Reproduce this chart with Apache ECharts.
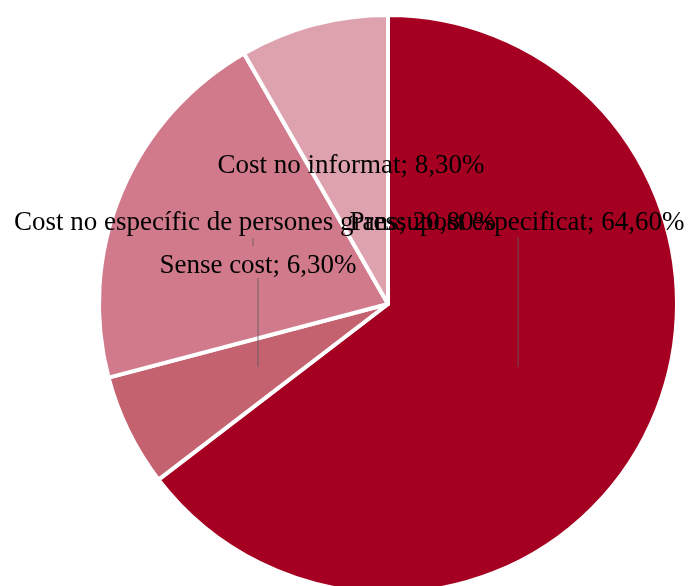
<!DOCTYPE html>
<html>
<head>
<meta charset="utf-8">
<script src="https://cdn.jsdelivr.net/npm/echarts@6/dist/echarts.min.js"></script>
<style>
  html, body { margin: 0; padding: 0; background: #ffffff; }
  #chart { width: 692px; height: 586px; }
</style>
</head>
<body>
<div id="chart"></div>
<script>
const categories = ['Pressupost especificat', 'Sense cost', 'Cost no específic de persones grans', 'Cost no informat'];
const values = [64.6, 6.3, 20.8, 8.3];
const percentLabels = ['64,60%', '6,30%', '20,80%', '8,30%'];
const sliceColors = ['#A50021', '#C5626F', '#D07A8B', '#DEA1AE'];

// label text centres, taken from the reference layout
const labelPos = [
  { x: 517, y: 223 },
  { x: 258, y: 266 },
  { x: 255, y: 223 },
  { x: 351, y: 166 }
];
// leader lines (x, y1, y2) as in the reference
const leaders = [
  [518, 237, 367],
  [258, 278, 367],
  [253, 238, 246]
];

const chart = echarts.init(document.getElementById('chart'), null, { renderer: 'canvas' });

const option = {
  backgroundColor: '#ffffff',
  animation: false,
  graphic: leaders.map(l => ({
    type: 'line',
    z: 100,
    shape: { x1: l[0], y1: l[1], x2: l[0], y2: l[2] },
    style: { stroke: '#5a5a5a', lineWidth: 0.8 }
  })),
  series: [{
    type: 'pie',
    center: [388, 304],
    radius: 289,
    startAngle: 90,
    clockwise: true,
    avoidLabelOverlap: false,
    data: categories.map((name, i) => ({
      name: name,
      value: values[i],
      itemStyle: { color: sliceColors[i] }
    })),
    itemStyle: { borderColor: '#ffffff', borderWidth: 4 },
    label: {
      show: true,
      formatter: p => p.name + '; ' + percentLabels[p.dataIndex],
      fontFamily: 'Liberation Serif',
      fontSize: 27,
      color: '#000000'
    },
    labelLine: { show: false },
    labelLayout: function (params) {
      const pos = labelPos[params.dataIndex];
      return { x: pos.x, y: pos.y, align: 'center', verticalAlign: 'middle' };
    }
  }]
};

chart.setOption(option);
</script>
</body>
</html>
